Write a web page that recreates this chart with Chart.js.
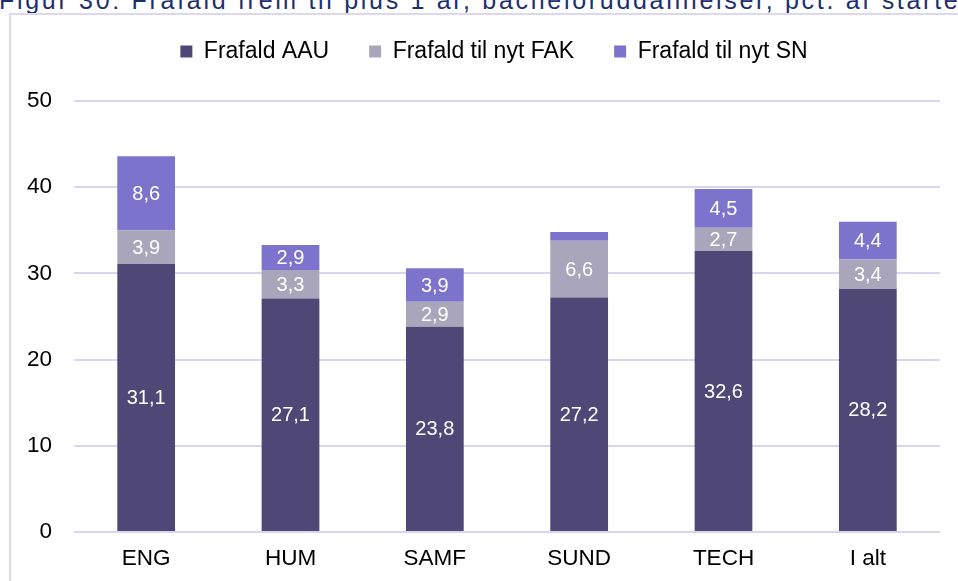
<!DOCTYPE html>
<html>
<head>
<meta charset="utf-8">
<script src="https://cdn.jsdelivr.net/npm/chart.js@4"></script>
<style>
  html, body { margin: 0; padding: 0; background: #fff; overflow: hidden; }
  body { width: 958px; height: 581px; position: relative; }
  #title {
    position: absolute; left: -1px; top: -14px; white-space: nowrap;
    font: 25px/29px "Liberation Sans", Arial, sans-serif; color: #1d2f6e; letter-spacing: 2.7px;
  }
  #frame {
    position: absolute; left: 9px; top: 13px; width: 960px; height: 580px;
    border: 2px solid #dcd8f0; box-sizing: border-box;
  }
  #wrap { position: absolute; left: 0; top: 0; width: 958px; height: 581px; }
</style>
</head>
<body>
<div id="title">Figur 30: Frafald frem til plus 1 år, bacheloruddannelser, pct. af startere</div>
<div id="frame"></div>
<div id="wrap"><canvas id="c"></canvas></div>
<script>
// Faculties and drop-out shares (pct. of starters)
const categories = ['ENG', 'HUM', 'SAMF', 'SUND', 'TECH', 'I alt'];
const frafaldAAU = [31.1, 27.1, 23.8, 27.2, 32.6, 28.2];
const frafaldFAK = [3.9, 3.3, 2.9, 6.6, 2.7, 3.4];
const frafaldSN  = [8.6, 2.9, 3.9, 1.0, 4.5, 4.4];
const yTicks = [0, 10, 20, 30, 40, 50];

const FONT = '"Liberation Sans", Arial, sans-serif';

// Writes each segment's value in its centre (comma decimal)
const segmentLabels = {
  id: 'segmentLabels',
  afterDatasetsDraw(chart) {
    const ctx = chart.ctx;
    ctx.save();
    ctx.fillStyle = '#ffffff';
    ctx.font = '20px ' + FONT;
    ctx.textAlign = 'center';
    ctx.textBaseline = 'middle';
    chart.data.datasets.forEach((ds, di) => {
      chart.getDatasetMeta(di).data.forEach((bar, i) => {
        const v = ds.data[i];
        if (v < 1.5) return;
        const p = bar.getProps(['x', 'y', 'base'], true);
        ctx.fillText(v.toFixed(1).replace('.', ','), p.x, (p.y + p.base) / 2 + 1);
      });
    });
    ctx.restore();
  }
};

// Extra room below the legend, and the legend centred over the plot area
const legendPlacement = {
  id: 'legendPlacement',
  beforeInit(chart) {
    const fit = chart.legend.fit;
    chart.legend.fit = function () {
      fit.bind(chart.legend)();
      this.height += 28;
    };
  },
  afterLayout(chart) {
    const lg = chart.legend;
    const shift = (chart.chartArea.left + chart.chartArea.right) / 2 - (lg.left + lg.right) / 2 - 13;
    lg.left += shift;
    lg.right += shift;
  }
};

new Chart(document.getElementById('c'), {
  type: 'bar',
  data: {
    labels: categories,
    datasets: [
      { label: 'Frafald AAU', data: frafaldAAU, backgroundColor: '#4f4877' },
      { label: 'Frafald til nyt FAK', data: frafaldFAK, backgroundColor: '#a9a5ba' },
      { label: 'Frafald til nyt SN', data: frafaldSN, backgroundColor: '#7b73cc' }
    ]
  },
  options: {
    responsive: true,
    maintainAspectRatio: false,
    animation: false,
    datasets: { bar: { barPercentage: 0.4, categoryPercentage: 1.0 } },
    layout: { padding: { top: 0, right: 18, left: 0, bottom: 0 } },
    plugins: {
      legend: {
        position: 'top',
        labels: {
          boxWidth: 12, boxHeight: 12, padding: 40,
          color: '#000', font: { family: FONT, size: 23 }
        }
      },
      tooltip: { enabled: false }
    },
    scales: {
      x: {
        stacked: true,
        grid: { display: false, drawTicks: false },
        border: { display: false },
        ticks: { color: '#000', font: { family: FONT, size: 22.5 }, padding: 13 },
        afterFit(s) { s.height = 49; }
      },
      y: {
        stacked: true,
        min: 0, max: 50,
        afterBuildTicks(s) { s.ticks = yTicks.map(v => ({ value: v })); },
        grid: { color: '#d9d4f0', lineWidth: 2, drawTicks: false },
        border: { display: false },
        ticks: { color: '#000', font: { family: FONT, size: 22.5 }, padding: 22 },
        afterFit(s) { s.width = 74; }
      }
    }
  },
  plugins: [segmentLabels, legendPlacement]
});
</script>
</body>
</html>
